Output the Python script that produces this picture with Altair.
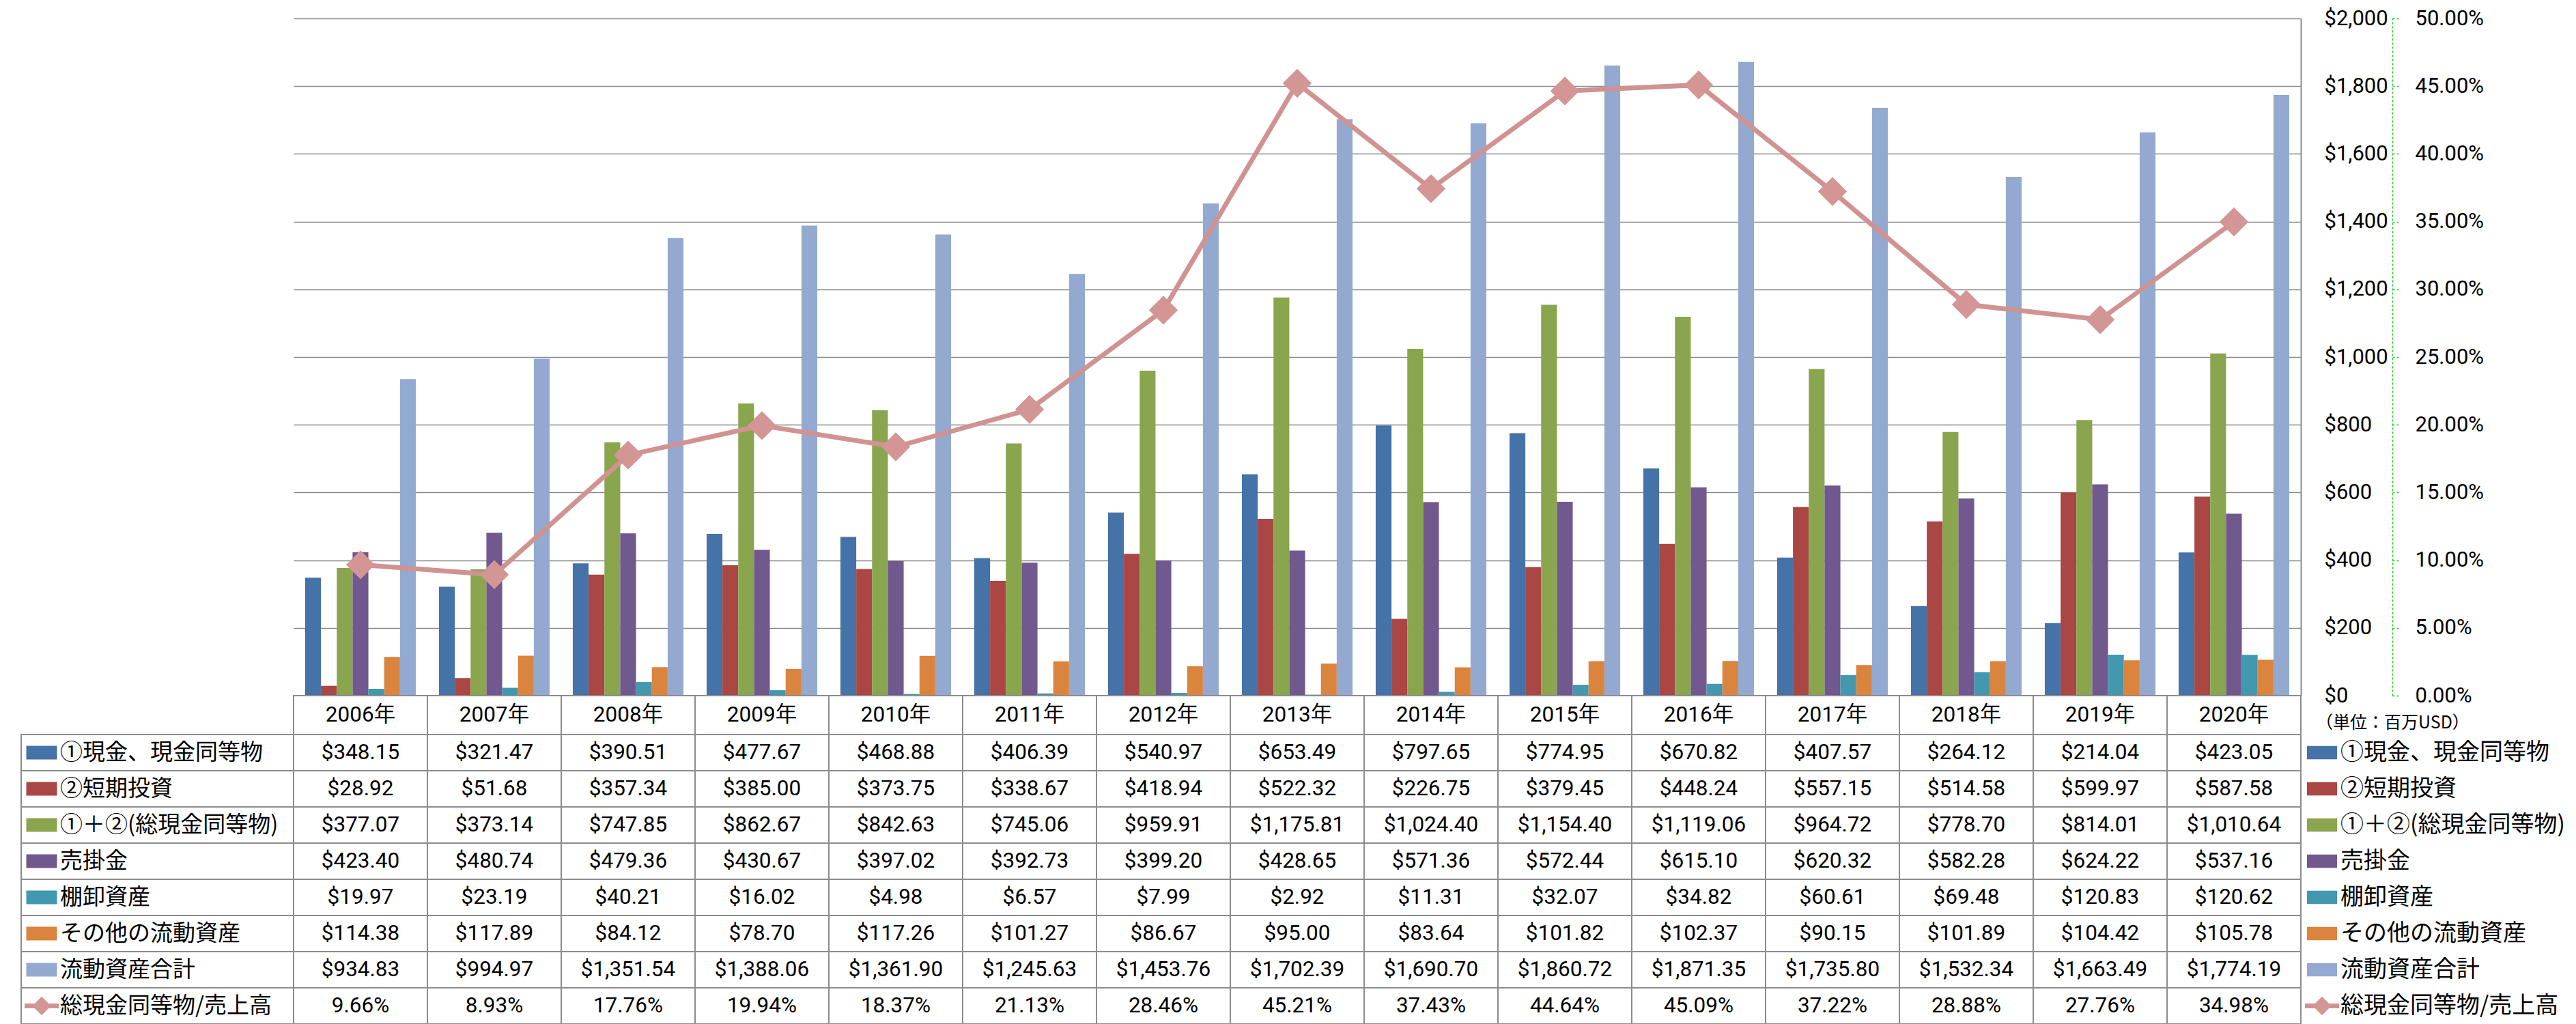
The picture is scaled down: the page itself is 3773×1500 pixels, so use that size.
import altair as alt
import pandas as pd

# ---------------- data ----------------
years = ["2006年", "2007年", "2008年", "2009年", "2010年", "2011年", "2012年", "2013年",
         "2014年", "2015年", "2016年", "2017年", "2018年", "2019年", "2020年"]

series_names = ["①現金、現金同等物", "②短期投資", "①＋②(総現金同等物)", "売掛金",
                "棚卸資産", "その他の流動資産", "流動資産合計"]
ratio_name = "総現金同等物/売上高"

cash = [348.15, 321.47, 390.51, 477.67, 468.88, 406.39, 540.97, 653.49, 797.65, 774.95,
        670.82, 407.57, 264.12, 214.04, 423.05]
short_inv = [28.92, 51.68, 357.34, 385.00, 373.75, 338.67, 418.94, 522.32, 226.75, 379.45,
             448.24, 557.15, 514.58, 599.97, 587.58]
total_cash = [377.07, 373.14, 747.85, 862.67, 842.63, 745.06, 959.91, 1175.81, 1024.40,
              1154.40, 1119.06, 964.72, 778.70, 814.01, 1010.64]
receivables = [423.40, 480.74, 479.36, 430.67, 397.02, 392.73, 399.20, 428.65, 571.36,
               572.44, 615.10, 620.32, 582.28, 624.22, 537.16]
inventory = [19.97, 23.19, 40.21, 16.02, 4.98, 6.57, 7.99, 2.92, 11.31, 32.07, 34.82,
             60.61, 69.48, 120.83, 120.62]
other_current = [114.38, 117.89, 84.12, 78.70, 117.26, 101.27, 86.67, 95.00, 83.64, 101.82,
                 102.37, 90.15, 101.89, 104.42, 105.78]
current_total = [934.83, 994.97, 1351.54, 1388.06, 1361.90, 1245.63, 1453.76, 1702.39,
                 1690.70, 1860.72, 1871.35, 1735.80, 1532.34, 1663.49, 1774.19]
ratio_pct = [9.66, 8.93, 17.76, 19.94, 18.37, 21.13, 28.46, 45.21, 37.43, 44.64, 45.09,
             37.22, 28.88, 27.76, 34.98]

money_ticks = [0, 200, 400, 600, 800, 1000, 1200, 1400, 1600, 1800, 2000]
pct_ticks = [0.0, 0.05, 0.10, 0.15, 0.20, 0.25, 0.30, 0.35, 0.40, 0.45, 0.50]
unit_label = "（単位：百万USD）"

series_colors = ["#4572A7", "#AA4643", "#89A54E", "#71588F", "#4198AF", "#DB843D", "#93A9CF"]
LINE_COLOR = "#D09392"
MARKER_COLOR = "#D39695"
GREEN = "#22CC22"
BORDER = "#8C8C8C"
GRID = "#8A8A8A"

# ---------------- tables built from the arrays ----------------
all_series = [cash, short_inv, total_cash, receivables, inventory, other_current, current_total]
bar_rows = []
for name, vals in zip(series_names, all_series):
    for yr, v in zip(years, vals):
        bar_rows.append({"year": yr, "series": name, "value": v})
bar_df = pd.DataFrame(bar_rows)
ratio_df = pd.DataFrame({"year": years, "ratio": [r / 100 for r in ratio_pct]})

row_domain = series_names + [ratio_name]

cell_rows = []
for name, vals in zip(series_names, all_series):
    for yr, v in zip(years, vals):
        cell_rows.append({"year": yr, "row": name, "label": f"${v:,.2f}"})
for yr, r in zip(years, ratio_pct):
    cell_rows.append({"year": yr, "row": ratio_name, "label": f"{r:.2f}%"})
cell_df = pd.DataFrame(cell_rows)
header_df = pd.DataFrame({"year": years, "label": years})

names_df = pd.DataFrame({"row": row_domain})
swatch_df = pd.DataFrame({"row": series_names, "series": series_names})
ratio_key_df = pd.DataFrame({"row": [ratio_name]})
unit_df = pd.DataFrame({"label": [unit_label]})

# ---------------- layout constants ----------------
W_LABEL, W_PLOT, W_LEGEND = 399, 2940, 380
H_PLOT, H_HEADER, H_ROWS = 992, 57, 424
AX_FONT = "Roboto"
NUM_FONT = "Roboto, 'Noto Sans CJK JP'"
JP_FONT = "Noto Sans CJK JP"
RECT_PATH = "M-1,-0.444L1,-0.444L1,0.444L-1,0.444Z"

color_enc = alt.Color("series:N", scale=alt.Scale(domain=series_names, range=series_colors),
                      legend=None)

# ---------------- main plot ----------------
x_main = alt.X("year:N", sort=years, axis=None,
               scale=alt.Scale(domain=years, paddingInner=0.173, paddingOuter=0.0865))

bars = alt.Chart(bar_df).mark_bar(opacity=1).encode(
    x=x_main,
    xOffset=alt.XOffset("series:N", sort=series_names,
                        scale=alt.Scale(domain=series_names, paddingInner=0, paddingOuter=0)),
    y=alt.Y("value:Q", scale=alt.Scale(domain=[0, 2000], nice=False),
            axis=alt.Axis(orient="right", offset=34, values=money_ticks, format="$,d",
                          labelAlign="left", labelBaseline="middle", labelPadding=0,
                          ticks=False, tickSize=0, domain=False, grid=True,
                          gridColor=GRID, gridWidth=1.3, labelFont=AX_FONT,
                          labelFontSize=31, labelColor="#000000", title=None)),
    color=color_enc,
)

line = alt.Chart(ratio_df).mark_line(color=LINE_COLOR, strokeWidth=7).encode(
    x=alt.X("year:N", sort=years),
    y=alt.Y("ratio:Q", scale=alt.Scale(domain=[0, 0.5], nice=False),
            axis=alt.Axis(orient="right", offset=134, values=pct_ticks, format=".2%",
                          labelAlign="left", labelBaseline="middle", labelPadding=22,
                          tickSize=11, tickColor=GREEN, tickDash=[3, 3], tickWidth=1.5,
                          domainColor=GREEN, domainDash=[3, 3], domainWidth=1.5,
                          grid=False, labelFont=AX_FONT, labelFontSize=31,
                          labelColor="#000000", title=None)),
)

points = alt.Chart(ratio_df).mark_point(shape="diamond", filled=True, size=1800,
                                        color=MARKER_COLOR, opacity=1).encode(
    x=alt.X("year:N", sort=years),
    y=alt.Y("ratio:Q", scale=alt.Scale(domain=[0, 0.5], nice=False),
            axis=alt.Axis(orient="right", offset=0, labels=False, ticks=False, grid=False,
                          domain=True, domainColor=BORDER, domainWidth=2, title=None)),
)

main = alt.layer(bars, line, points).resolve_scale(y="independent").properties(
    width=W_PLOT, height=H_PLOT)

blank = pd.DataFrame({"a": [0]})
spacer_left = alt.Chart(blank).mark_text(text="").properties(width=W_LABEL, height=H_PLOT)
spacer_right = alt.Chart(blank).mark_text(text="").properties(width=W_LEGEND, height=H_PLOT)
spacer_head = alt.Chart(blank).mark_text(text="").properties(width=W_LABEL, height=H_HEADER)

# ---------------- header row (years) ----------------
x_tab = alt.X("year:N", sort=years, axis=None,
              scale=alt.Scale(domain=years, paddingInner=0, paddingOuter=0))
head_cells = alt.Chart(header_df).mark_rect(fill="white", stroke=BORDER, strokeWidth=2).encode(
    x=x_tab)
head_text = alt.Chart(header_df).mark_text(font=NUM_FONT, fontSize=31.5, color="black").encode(
    x=x_tab, text="label:N")
header = alt.layer(head_cells, head_text).properties(width=W_PLOT, height=H_HEADER)

unit_chart = alt.Chart(unit_df).mark_text(align="left", font=JP_FONT, fontSize=25, dy=11,
                                          color="black").encode(
    x=alt.value(22), text="label:N").properties(width=W_LEGEND, height=H_HEADER)

# ---------------- table body ----------------
y_rows = alt.Y("row:N", sort=row_domain, axis=None,
               scale=alt.Scale(domain=row_domain, paddingInner=0, paddingOuter=0))

table_cells = alt.Chart(cell_df).mark_rect(fill="white", stroke=BORDER, strokeWidth=2).encode(
    x=x_tab, y=y_rows)
table_text = alt.Chart(cell_df).mark_text(font=NUM_FONT, fontSize=31.5, color="black").encode(
    x=x_tab, y=y_rows, text="label:N")
table = alt.layer(table_cells, table_text).properties(width=W_PLOT, height=H_ROWS)

# left label column
lab_cells = alt.Chart(names_df).mark_rect(fill="white", stroke=BORDER, strokeWidth=2).encode(
    y=y_rows)
lab_swatch = alt.Chart(swatch_df).mark_point(shape=RECT_PATH, filled=True, size=2025,
                                             opacity=1).encode(
    x=alt.value(30), y=y_rows, color=color_enc)
lab_rule = alt.Chart(ratio_key_df).mark_rule(color=LINE_COLOR, strokeWidth=7).encode(
    x=alt.value(5), x2=alt.value(55), y=y_rows)
lab_diamond = alt.Chart(ratio_key_df).mark_point(shape="diamond", filled=True, size=750,
                                                 color=MARKER_COLOR, opacity=1).encode(
    x=alt.value(30), y=y_rows)
lab_text = alt.Chart(names_df).mark_text(align="left", font=JP_FONT, fontSize=33,
                                         color="black").encode(
    x=alt.value(57), y=y_rows, text="row:N")
label_col = alt.layer(lab_cells, lab_swatch, lab_rule, lab_diamond, lab_text).properties(
    width=W_LABEL, height=H_ROWS)

# right legend column
leg_swatch = alt.Chart(swatch_df).mark_point(shape=RECT_PATH, filled=True, size=1936,
                                             opacity=1).encode(
    x=alt.value(31), y=y_rows, color=color_enc)
leg_rule = alt.Chart(ratio_key_df).mark_rule(color=LINE_COLOR, strokeWidth=7).encode(
    x=alt.value(6), x2=alt.value(56), y=y_rows)
leg_diamond = alt.Chart(ratio_key_df).mark_point(shape="diamond", filled=True, size=750,
                                                 color=MARKER_COLOR, opacity=1).encode(
    x=alt.value(31), y=y_rows)
leg_text = alt.Chart(names_df).mark_text(align="left", font=JP_FONT, fontSize=34,
                                         color="black").encode(
    x=alt.value(58), y=y_rows, text="row:N")
legend_col = alt.layer(leg_swatch, leg_rule, leg_diamond, leg_text).properties(
    width=W_LEGEND, height=H_ROWS)

chart = alt.concat(spacer_left, main, spacer_right,
                   spacer_head, header, unit_chart,
                   label_col, table, legend_col,
                   columns=3, spacing=0, bounds="flush").properties(
    padding={"left": 21, "top": 2, "right": 0, "bottom": 0},
    background="white",
).configure_view(stroke="transparent")

chart.save("out.html", embed_options={"renderer": "svg", "actions": False})
